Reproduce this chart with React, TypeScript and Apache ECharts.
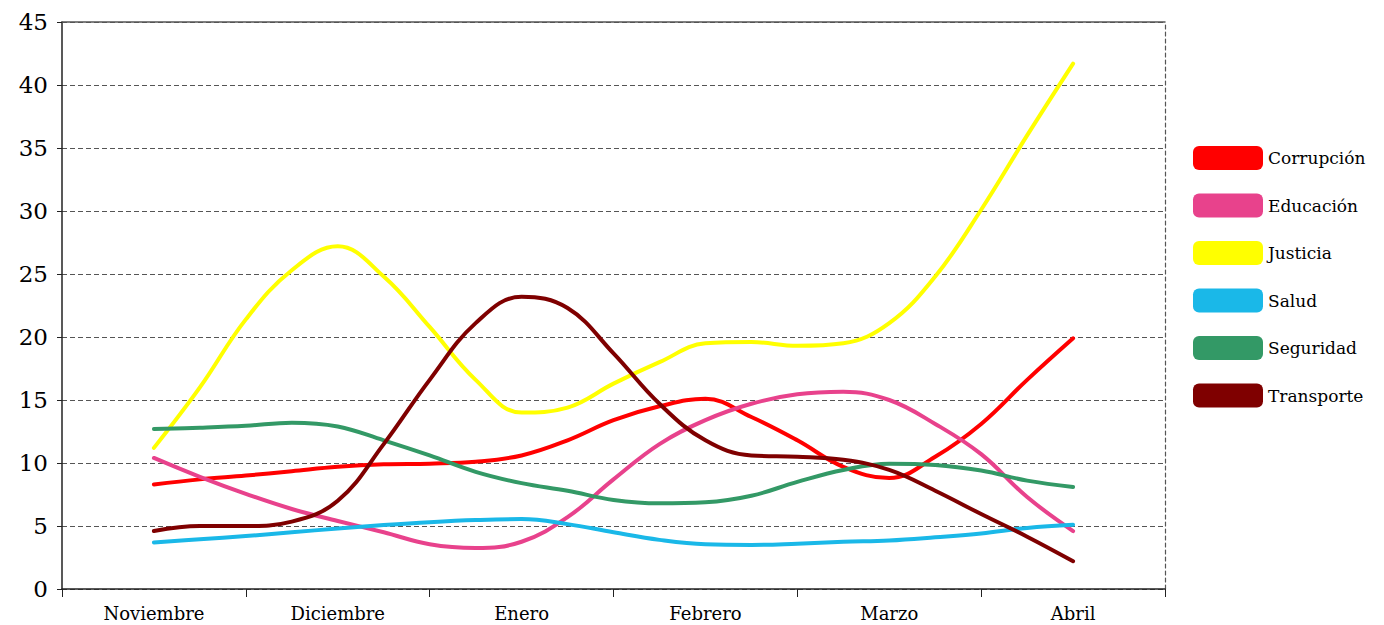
import React, { useEffect, useRef } from "react";
import * as echarts from "echarts";

const months = ["Noviembre", "Diciembre", "Enero", "Febrero", "Marzo", "Abril"];
const yTicks = [0, 45, 5];
// sample positions: quarter-month steps from center of Noviembre to center of Abril
const steps = [0, 0.25, 0.5, 0.75, 1, 1.25, 1.5, 1.75, 2, 2.25, 2.5, 2.75, 3, 3.25, 3.5, 3.75, 4, 4.25, 4.5, 4.75, 5];

const corrupcion = [8.3, 8.7, 9.0, 9.35, 9.7, 9.9, 9.95, 10.1, 10.6, 11.8, 13.4, 14.5, 15.1, 13.65, 11.8, 9.7, 8.8, 10.5, 13.1, 16.6, 19.9];
const educacion = [10.4, 8.9, 7.55, 6.35, 5.4, 4.5, 3.55, 3.25, 3.75, 5.7, 8.7, 11.5, 13.4, 14.7, 15.45, 15.65, 15.0, 13.1, 10.7, 7.3, 4.6];
const justicia = [11.2, 16.0, 21.4, 25.3, 27.2, 24.8, 20.8, 16.6, 14.0, 14.4, 16.3, 18.0, 19.5, 19.6, 19.3, 19.5, 21.1, 24.8, 30.1, 36.0, 41.7];
const salud = [3.7, 3.95, 4.2, 4.5, 4.8, 5.07, 5.3, 5.47, 5.55, 5.15, 4.5, 3.9, 3.55, 3.5, 3.6, 3.75, 3.85, 4.1, 4.4, 4.85, 5.1];
const seguridad = [12.7, 12.8, 12.95, 13.2, 12.9, 11.8, 10.6, 9.3, 8.4, 7.8, 7.07, 6.8, 6.88, 7.4, 8.5, 9.45, 9.95, 9.85, 9.4, 8.6, 8.1];
const transporte = [4.6, 5.0, 5.0, 5.35, 7.0, 11.5, 16.6, 21.1, 23.2, 22.3, 18.7, 14.7, 11.8, 10.6, 10.5, 10.25, 9.45, 7.8, 5.95, 4.15, 2.2];

const seriesNames = ["Corrupción", "Educación", "Justicia", "Salud", "Seguridad", "Transporte"];
const seriesData = [corrupcion, educacion, justicia, salud, seguridad, transporte];
const seriesColors = ["#FF0000", "#E8428C", "#FFFF00", "#1AB8E8", "#339966", "#7F0000"];

const FONT = "DejaVu Serif";

export default function App() {
  const ref = useRef<HTMLDivElement>(null);
  useEffect(() => {
    if (!ref.current) return;
    const chart = echarts.init(ref.current, undefined, { renderer: "svg" });
    chart.setOption({
      animation: false,
      backgroundColor: "#ffffff",
      grid: { left: 62, right: 219, top: 22, bottom: 36, containLabel: false },
      legend: {
        orient: "vertical",
        left: 1188,
        top: 141,
        itemWidth: 70,
        itemHeight: 24,
        itemGap: 23.5,
        icon: "roundRect",
        data: seriesNames,
        textStyle: { fontFamily: FONT, fontSize: 17, color: "#000" },
      },
      xAxis: [
        {
          type: "category",
          data: months,
          boundaryGap: true,
          position: "bottom",
          axisLine: { show: true, onZero: false, lineStyle: { color: "#222", width: 1.5 } },
          axisTick: { show: true, alignWithLabel: false, length: 8, lineStyle: { color: "#222" } },
          axisLabel: { fontFamily: FONT, fontSize: 18, color: "#000", margin: 15 },
          splitLine: { show: false },
        },
        {
          type: "value",
          min: -0.5,
          max: 5.5,
          show: false,
          position: "bottom",
        },
        {
          type: "value",
          min: -0.5,
          max: 5.5,
          position: "top",
          axisLine: { show: true, onZero: false, lineStyle: { color: "#555", width: 1.5 } },
          axisTick: { show: false },
          axisLabel: { show: false },
          splitLine: { show: false },
        },
      ],
      yAxis: [
        {
          type: "value",
          min: yTicks[0],
          max: yTicks[1],
          interval: yTicks[2],
          axisLine: { show: true, onZero: false, lineStyle: { color: "#222", width: 1.5 } },
          axisTick: { show: true, length: 5, lineStyle: { color: "#222" } },
          axisLabel: { fontFamily: FONT, fontSize: 23, color: "#000", margin: 14 },
          splitLine: { show: true, lineStyle: { color: "#555", type: [5, 3], width: 1.2 } },
        },
        {
          type: "value",
          min: yTicks[0],
          max: yTicks[1],
          interval: yTicks[2],
          position: "right",
          axisLine: { show: true, onZero: false, lineStyle: { color: "#555", type: [4, 3], width: 1.2 } },
          axisTick: { show: false },
          axisLabel: { show: false },
          splitLine: { show: false },
        },
      ],
      series: seriesNames.map((name, k) => ({
        name,
        type: "line",
        xAxisIndex: 1,
        yAxisIndex: 0,
        smooth: 0.4,
        showSymbol: false,
        symbol: "none",
        color: seriesColors[k],
        lineStyle: { width: 4, color: seriesColors[k], cap: "round", join: "round" },
        data: seriesData[k].map((v, i) => [steps[i], v]),
      })),
    });
    return () => chart.dispose();
  }, []);
  return <div ref={ref} style={{ width: 1384, height: 625, position: "absolute", left: 0, top: 0 }} />;
}
